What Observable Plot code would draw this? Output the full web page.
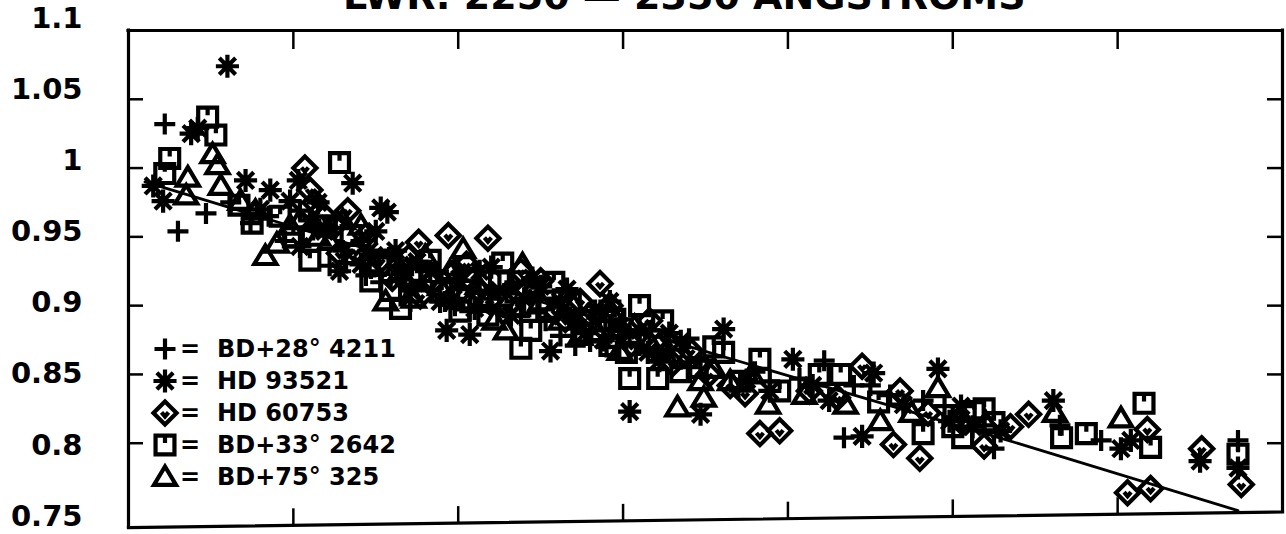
<!DOCTYPE html>
<html><head><meta charset="utf-8">
<script src="https://cdn.jsdelivr.net/npm/d3@7"></script>
<script src="https://cdn.jsdelivr.net/npm/@observablehq/plot@0.6"></script>
<style>
html,body{margin:0;padding:0;background:#fff;overflow:hidden}
#wrap{position:relative;width:1286px;height:534px;overflow:hidden}
#wrap > svg{position:absolute;left:0;top:0}
#title{position:absolute;left:343px;top:-23px;font:bold 38px "DejaVu Sans";line-height:38px;white-space:nowrap;color:#000}
.lg{position:absolute;font:bold 24px "DejaVu Sans";color:#000;white-space:nowrap;line-height:32px;height:32px}
.lgsym{position:absolute}
</style></head><body><div id="wrap"></div>
<script>
// ---- data (x = year, y = relative sensitivity) ----
const titleText = "LWR: 2250 — 2350 ANGSTROMS";
const yTickLabels = [1.1, 1.05, 1, 0.95, 0.9, 0.85, 0.8, 0.75];
const yInnerTicks = [1.05, 1, 0.95, 0.9, 0.85, 0.8];
const xTicks = [1979, 1980, 1981, 1982, 1983, 1984];
const xDomain = [1978, 1985];
const yDomain = [0.75, 1.1];
const frameBottomLeft = 0.7387;   // scanned frame: bottom edge sags at the left

const starNames = ["BD+28° 4211", "HD 93521", "HD 60753", "BD+33° 2642", "BD+75° 325"];

const bd28_4211 = [
 [1978.22,1.032],[1978.30,0.954],[1978.47,0.967],[1978.62,0.975],[1978.74,0.960],[1978.85,0.965],[1978.95,0.947],
 [1979.04,0.969],[1979.12,0.955],[1979.22,0.929],[1979.30,0.940],[1979.32,0.931],[1979.41,0.947],[1979.44,0.922],
 [1979.53,0.917],[1979.58,0.935],[1979.62,0.929],[1979.68,0.915],[1979.71,0.903],[1979.77,0.918],[1979.84,0.911],
 [1979.88,0.925],[1979.92,0.903],[1979.98,0.900],[1980.00,0.912],[1980.07,0.896],[1980.13,0.911],[1980.20,0.905],
 [1980.25,0.900],[1980.33,0.915],[1980.38,0.893],[1980.44,0.903],[1980.48,0.895],[1980.53,0.889],[1980.58,0.905],
 [1980.62,0.878],[1980.68,0.892],[1980.71,0.871],[1980.80,0.874],[1980.86,0.889],[1980.90,0.870],[1980.92,0.882],
 [1981.00,0.890],[1981.04,0.878],[1981.10,0.871],[1981.16,0.882],[1981.28,0.868],[1981.40,0.876],[1981.47,0.860],
 [1981.70,0.840],[1981.80,0.852],[1981.89,0.845],[1982.07,0.847],[1982.22,0.860],[1982.34,0.804],[1982.40,0.842],
 [1982.50,0.842],[1982.62,0.835],[1982.82,0.831],[1982.95,0.827],[1983.00,0.818],[1983.19,0.813],[1983.25,0.796],
 [1983.65,0.813],[1983.90,0.802],[1984.73,0.802]
];
const hd93521 = [
 [1978.15,0.987],[1978.21,0.976],[1978.38,1.025],[1978.42,1.029],[1978.60,1.074],[1978.71,0.991],[1978.80,0.970],
 [1978.86,0.984],[1978.98,0.976],[1979.03,0.991],[1979.04,0.943],[1979.10,0.962],[1979.15,0.975],[1979.19,0.954],
 [1979.28,0.925],[1979.36,0.989],[1979.41,0.930],[1979.46,0.940],[1979.50,0.954],[1979.53,0.971],[1979.57,0.968],
 [1979.62,0.940],[1979.66,0.925],[1979.71,0.911],[1979.75,0.932],[1979.83,0.925],[1979.89,0.903],[1979.93,0.882],
 [1979.97,0.905],[1980.01,0.918],[1980.07,0.879],[1980.10,0.898],[1980.13,0.925],[1980.20,0.928],[1980.25,0.911],
 [1980.32,0.893],[1980.40,0.905],[1980.45,0.920],[1980.50,0.914],[1980.56,0.867],[1980.62,0.903],[1980.66,0.912],
 [1980.71,0.889],[1980.77,0.880],[1980.83,0.896],[1980.88,0.875],[1980.92,0.903],[1980.98,0.885],[1981.04,0.823],
 [1981.10,0.882],[1981.15,0.866],[1981.22,0.860],[1981.28,0.880],[1981.35,0.874],[1981.47,0.821],[1981.61,0.883],
 [1981.75,0.846],[1981.89,0.838],[1982.03,0.861],[1982.15,0.842],[1982.25,0.831],[1982.45,0.805],[1982.52,0.851],
 [1982.70,0.828],[1982.91,0.854],[1982.98,0.816],[1983.05,0.827],[1983.12,0.812],[1983.29,0.809],[1983.61,0.831],
 [1984.02,0.796],[1984.08,0.802],[1984.50,0.787],[1984.73,0.782]
];
const hd60753 = [
 [1979.07,1.000],[1979.10,0.984],[1979.13,0.975],[1979.19,0.965],[1979.25,0.958],[1979.28,0.938],[1979.33,0.969],
 [1979.38,0.940],[1979.44,0.951],[1979.53,0.933],[1979.60,0.920],[1979.70,0.935],[1979.76,0.946],[1979.77,0.907],
 [1979.85,0.918],[1979.94,0.951],[1979.98,0.925],[1980.05,0.930],[1980.12,0.912],[1980.18,0.949],[1980.19,0.903],
 [1980.30,0.900],[1980.38,0.925],[1980.42,0.911],[1980.50,0.918],[1980.59,0.896],[1980.65,0.890],[1980.74,0.903],
 [1980.80,0.893],[1980.86,0.916],[1980.92,0.900],[1980.98,0.882],[1981.05,0.872],[1981.16,0.889],[1981.22,0.871],
 [1981.30,0.858],[1981.41,0.867],[1981.52,0.850],[1981.65,0.842],[1981.74,0.836],[1981.83,0.807],[1981.95,0.809],
 [1982.13,0.838],[1982.30,0.833],[1982.45,0.856],[1982.64,0.799],[1982.68,0.838],[1982.80,0.789],[1982.85,0.822],
 [1983.05,0.816],[1983.19,0.798],[1983.35,0.812],[1983.46,0.821],[1984.06,0.764],[1984.18,0.810],[1984.20,0.767],
 [1984.51,0.796],[1984.75,0.770]
];
const bd33_2642 = [
 [1978.22,0.996],[1978.25,1.007],[1978.48,1.037],[1978.53,1.024],[1978.67,0.973],[1978.75,0.960],[1978.92,0.965],
 [1979.00,0.950],[1979.10,0.933],[1979.20,0.958],[1979.28,1.004],[1979.35,0.951],[1979.47,0.918],[1979.52,0.930],
 [1979.59,0.911],[1979.65,0.898],[1979.72,0.920],[1979.83,0.933],[1979.90,0.910],[1980.01,0.896],[1980.05,0.920],
 [1980.13,0.903],[1980.18,0.893],[1980.25,0.918],[1980.27,0.931],[1980.35,0.910],[1980.38,0.869],[1980.44,0.882],
 [1980.55,0.898],[1980.58,0.917],[1980.68,0.903],[1980.75,0.880],[1980.80,0.889],[1980.92,0.871],[1980.95,0.890],
 [1981.02,0.866],[1981.04,0.847],[1981.10,0.900],[1981.21,0.847],[1981.24,0.889],[1981.35,0.852],[1981.45,0.855],
 [1981.55,0.870],[1981.61,0.866],[1981.71,0.845],[1981.83,0.861],[1981.95,0.838],[1982.19,0.850],[1982.32,0.850],
 [1982.55,0.830],[1982.82,0.807],[1983.00,0.812],[1983.06,0.804],[1983.13,0.823],[1983.19,0.825],[1983.25,0.815],
 [1983.66,0.804],[1983.81,0.807],[1984.16,0.829],[1984.20,0.797],[1984.73,0.792]
];
const bd75_325 = [
 [1978.35,0.980],[1978.36,0.993],[1978.51,1.010],[1978.54,1.002],[1978.56,0.987],[1978.68,0.976],[1978.77,0.969],
 [1978.83,0.936],[1978.90,0.945],[1978.98,0.958],[1979.04,0.962],[1979.15,0.950],[1979.22,0.947],[1979.30,0.962],
 [1979.41,0.958],[1979.48,0.928],[1979.56,0.903],[1979.65,0.925],[1979.73,0.905],[1979.80,0.936],[1979.89,0.914],
 [1979.95,0.925],[1980.03,0.941],[1980.07,0.903],[1980.12,0.915],[1980.22,0.889],[1980.29,0.882],[1980.35,0.898],
 [1980.39,0.930],[1980.45,0.912],[1980.50,0.903],[1980.62,0.889],[1980.70,0.900],[1980.74,0.878],[1980.85,0.880],
 [1980.93,0.895],[1980.98,0.867],[1981.07,0.885],[1981.16,0.874],[1981.25,0.865],[1981.33,0.826],[1981.38,0.861],
 [1981.47,0.845],[1981.49,0.833],[1981.55,0.854],[1981.65,0.845],[1981.78,0.850],[1981.88,0.828],[1982.10,0.835],
 [1982.35,0.828],[1982.56,0.816],[1982.75,0.822],[1982.91,0.840],[1983.20,0.815],[1983.62,0.822],[1984.02,0.818]
];
const fitYear = [1978.10, 1980.00, 1981.35, 1983.31, 1984.73];
const fitValue = [0.990, 0.921, 0.872, 0.803, 0.751];

// ---- symbols ----
const rad = size => Math.sqrt(size / Math.PI);
const symPlus = {draw(c, size){ const s = rad(size); c.moveTo(-s,0); c.lineTo(s,0); c.moveTo(0,-s); c.lineTo(0,s); }};
const symAster = {draw(c, size){ const s = rad(size)*1.1; for (let k=0;k<4;k++){ const a=k*Math.PI/4, dx=Math.cos(a)*s, dy=Math.sin(a)*s; c.moveTo(-dx,-dy); c.lineTo(dx,dy);} }};
const symDiamond = {draw(c, size){ const s = rad(size)*1.1; c.moveTo(0,-s); c.lineTo(s,0); c.lineTo(0,s); c.lineTo(-s,0); c.closePath(); c.moveTo(-s*0.3,-s*0.05); c.lineTo(0,s*0.3); c.lineTo(s*0.3,-s*0.05); }};
const symSquare = {draw(c, size){ const s = rad(size)*0.9; c.rect(-s,-s,2*s,2*s); c.moveTo(0,-s); c.lineTo(0,-s*0.2); }};
const symTri = {draw(c, size){ const s = rad(size); c.moveTo(0,-s*1.0); c.lineTo(s*1.05,s*0.75); c.lineTo(-s*1.05,s*0.75); c.closePath(); }};
const symbols = [symPlus, symAster, symDiamond, symSquare, symTri];
const seriesData = [bd28_4211, hd93521, hd60753, bd33_2642, bd75_325];

const R = 10.5, SW = 4.2, FW = 3.2;
const dotMarks = seriesData.map((data, i) => Plot.dot(data, {
  x: d => d[0], y: d => d[1], symbol: symbols[i], r: R,
  stroke: "black", fill: "none", strokeWidth: SW, strokeLinejoin: "miter"
}));

// bottom edge of the (scanned) frame, interpolated between its two ends
const bottomAt = x => frameBottomLeft + (yDomain[0] - frameBottomLeft) * (x - xDomain[0]) / (xDomain[1] - xDomain[0]);
const bottomTickLen = 0.012;

const chart = Plot.plot({
  width: 1286, height: 534,
  marginLeft: 128, marginRight: 4, marginTop: 30, marginBottom: 7,
  x: {domain: xDomain},
  y: {domain: yDomain, range: [511.5, 30]},
  style: {fontFamily: "DejaVu Sans", color: "black", background: "white", overflow: "visible"},
  marks: [
    Plot.line(fitYear.map((x, i) => [x, fitValue[i]]), {x: d => d[0], y: d => d[1], stroke: "black", strokeWidth: 2.8}),
    ...dotMarks,
    Plot.axisY({anchor: "left", ticks: yInnerTicks, tickSize: 15, dx: 15, tickFormat: () => "", label: null, strokeWidth: 2.5}),
    Plot.axisY({anchor: "right", ticks: yInnerTicks, tickSize: 16, dx: -16, tickFormat: () => "", label: null, strokeWidth: 2.5}),
    Plot.axisX({anchor: "top", ticks: xTicks, tickSize: 18, dy: 18, tickFormat: () => "", label: null, strokeWidth: 2.5}),
    Plot.ruleX(xTicks, {x: d => d, y1: d => bottomAt(d), y2: d => bottomAt(d) + bottomTickLen, strokeWidth: 2.5}),
    // frame: top, left, right, and the sagging bottom edge
    Plot.ruleY([yDomain[1]], {strokeWidth: FW, strokeLinecap: "square"}),
    Plot.ruleX([xDomain[0]], {strokeWidth: FW, strokeLinecap: "square"}),
    Plot.ruleX([xDomain[1]], {y1: yDomain[0], y2: yDomain[1], strokeWidth: FW, strokeLinecap: "square"}),
    Plot.line([[xDomain[0], frameBottomLeft], [xDomain[1], yDomain[0]]], {x: d => d[0], y: d => d[1], strokeWidth: FW, strokeLinecap: "square"})
  ]
});
const wrap = document.getElementById("wrap");
wrap.appendChild(chart);

// tick labels of the scan are spread slightly wider than its tick marks
const labels = Plot.plot({
  width: 1286, height: 534,
  marginLeft: 128, marginRight: 4, marginTop: 18, marginBottom: 18,
  x: {domain: xDomain, axis: null},
  y: {domain: yDomain},
  style: {fontFamily: "DejaVu Sans", color: "black", background: "none", overflow: "visible"},
  marks: [
    Plot.axisY({anchor: "left", ticks: yTickLabels, tickSize: 0, tickPadding: 46, fontSize: 29, fontWeight: "bold", tickFormat: d => String(d), label: null})
  ]
});
labels.style.pointerEvents = "none";
wrap.appendChild(labels);

const title = document.createElement("div");
title.id = "title"; title.textContent = titleText;
wrap.appendChild(title);

// ---- legend (inside the frame, lower left) ----
function symPath(sym, r){ const p = d3.path(); sym.draw(p, Math.PI*r*r); return p.toString(); }
starNames.forEach((name, i) => {
  const cy = 349 + 32*i;
  const svgNS = "http://www.w3.org/2000/svg";
  const s = document.createElementNS(svgNS, "svg");
  s.setAttribute("class", "lgsym");
  s.setAttribute("width", 32); s.setAttribute("height", 32);
  s.setAttribute("viewBox", "-16 -16 32 32");
  s.style.left = "149px"; s.style.top = (cy - 16) + "px";
  const path = document.createElementNS(svgNS, "path");
  path.setAttribute("d", symPath(symbols[i], R));
  path.setAttribute("fill", "none"); path.setAttribute("stroke", "black");
  path.setAttribute("stroke-width", SW);
  s.appendChild(path);
  wrap.appendChild(s);
  const eq = document.createElement("div");
  eq.className = "lg"; eq.textContent = "=";
  eq.style.left = "180px"; eq.style.top = (cy - 16) + "px";
  wrap.appendChild(eq);
  const t = document.createElement("div");
  t.className = "lg"; t.textContent = name;
  t.style.left = "217px"; t.style.top = (cy - 16) + "px";
  wrap.appendChild(t);
});
</script></body></html>
